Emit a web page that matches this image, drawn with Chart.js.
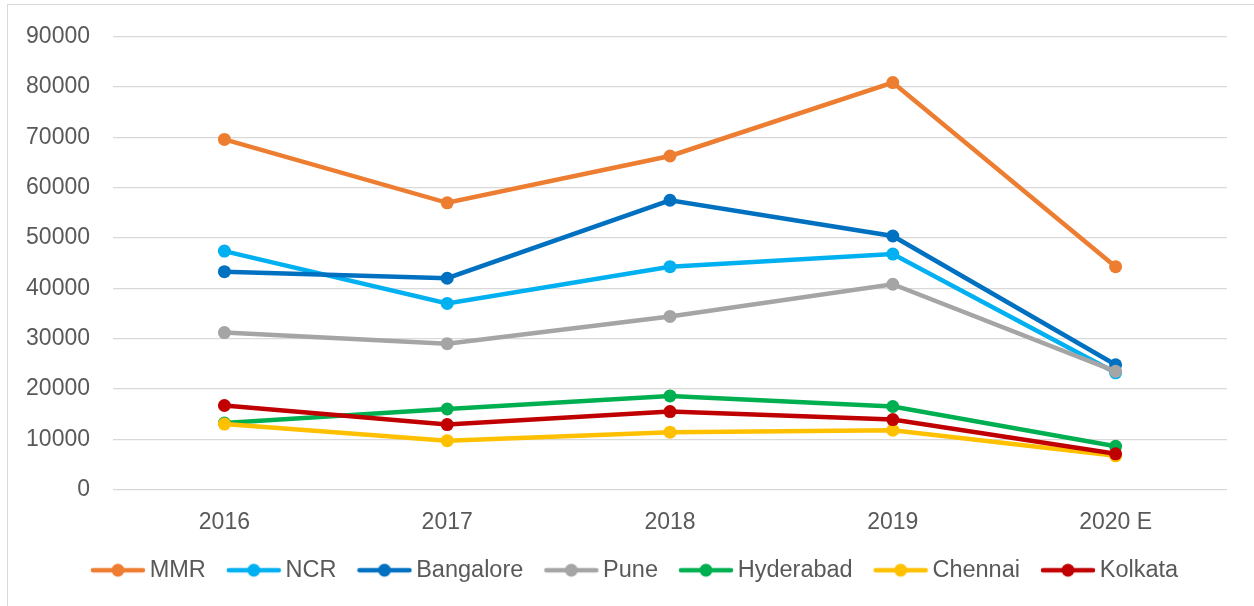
<!DOCTYPE html>
<html>
<head>
<meta charset="utf-8">
<script src="https://cdn.jsdelivr.net/npm/chart.js"></script>
<style>
  html, body { margin: 0; padding: 0; background: #fff; }
  #wrap { position: relative; width: 1254px; height: 606px; overflow: hidden; }
  #frame { position: absolute; left: 7px; top: 4px; width: 1300px; height: 700px;
           border-left: 1px solid #d9d9d9; border-top: 1px solid #d9d9d9; }
  canvas { position: absolute; left: 0; top: 0; }
</style>
</head>
<body>
<div id="wrap">
  <div id="frame"></div>
  <canvas id="graphCanvas" width="1254" height="606"></canvas>
</div>
<script>
var years = ['2016', '2017', '2018', '2019', '2020 E'];
var cities = ['MMR', 'NCR', 'Bangalore', 'Pune', 'Hyderabad', 'Chennai', 'Kolkata'];
var colors = ['#ED7D31', '#00B0F0', '#0070C0', '#A5A5A5', '#00B050', '#FFC000', '#C00000'];

var mmr       = [69600, 57000, 66300, 80900, 44300];
var ncr       = [47400, 37000, 44300, 46800, 23200];
var bangalore = [43300, 42000, 57500, 50400, 24800];
var pune      = [31200, 29000, 34400, 40800, 23500];
var hyderabad = [13200, 16000, 18600, 16500, 8600];
var chennai   = [13000, 9700, 11400, 11800, 6700];
var kolkata   = [16700, 12900, 15500, 13900, 7100];

var yTicks = [0, 10000, 20000, 30000, 40000, 50000, 60000, 70000, 80000, 90000];

var series = [mmr, ncr, bangalore, pune, hyderabad, chennai, kolkata];

// little line-with-dot icon for the legend
function legendIcon(color) {
    var c = document.createElement('canvas');
    c.width = 56;
    c.height = 16;
    var g = c.getContext('2d');
    g.strokeStyle = color;
    g.lineWidth = 4.5;
    g.lineCap = 'round';
    g.beginPath();
    g.moveTo(3, 8);
    g.lineTo(53, 8);
    g.stroke();
    g.fillStyle = color;
    g.beginPath();
    g.arc(28, 8, 6.5, 0, Math.PI * 2);
    g.fill();
    return c;
}

var datasets = [];
for (var i = 0; i < cities.length; i++) {
    datasets.push({
        label: cities[i],
        data: series[i],
        borderColor: colors[i],
        backgroundColor: colors[i],
        pointBackgroundColor: colors[i],
        pointBorderColor: colors[i],
        borderWidth: 4.5,
        pointRadius: 6.5,
        pointBorderWidth: 0,
        tension: 0,
        order: cities.length - i
    });
}

// nudge the legend a bit to the right, like the original
var legendShift = {
    id: 'legendShift',
    afterLayout: function (c) {
        if (c.legend) {
            c.legend.left += 24.5;
            c.legend.right += 24.5;
        }
    }
};

var chart = new Chart(document.getElementById('graphCanvas'), {
    type: 'line',
    data: { labels: years, datasets: datasets },
    plugins: [legendShift],
    options: {
        responsive: false,
        animation: false,
        layout: { padding: { left: 0, right: 27, top: 34, bottom: 14 } },
        plugins: {
            tooltip: { enabled: false },
            legend: {
                position: 'bottom',
                labels: {
                    usePointStyle: true,
                    pointStyleWidth: 40,
                    padding: 28,
                    color: '#595959',
                    font: { family: '"Liberation Sans", Arial, sans-serif', size: 23.5 },
                    generateLabels: function (c) {
                        return c.data.datasets.map(function (ds, idx) {
                            return {
                                text: ds.label,
                                pointStyle: legendIcon(ds.borderColor),
                                fillStyle: ds.borderColor,
                                strokeStyle: ds.borderColor,
                                lineWidth: 0,
                                fontColor: '#595959',
                                hidden: false,
                                datasetIndex: idx
                            };
                        });
                    }
                }
            }
        },
        scales: {
            x: {
                offset: true,
                grid: { display: false, drawTicks: false },
                border: { display: false },
                ticks: {
                    color: '#595959',
                    padding: 19,
                    font: { family: '"Liberation Sans", Arial, sans-serif', size: 23 }
                },
                afterFit: function (s) { s.height = 41; }
            },
            y: {
                min: 0,
                max: 90000,
                grid: { color: '#d9d9d9', lineWidth: 1.3, drawTicks: false },
                border: { display: false },
                afterBuildTicks: function (s) {
                    s.ticks = yTicks.map(function (v) { return { value: v }; });
                },
                ticks: {
                    color: '#595959',
                    padding: 23,
                    font: { family: '"Liberation Sans", Arial, sans-serif', size: 23 },
                    callback: function (v) { return String(v); }
                },
                afterFit: function (s) { s.width = 113; }
            }
        }
    }
});
</script>
</body>
</html>
